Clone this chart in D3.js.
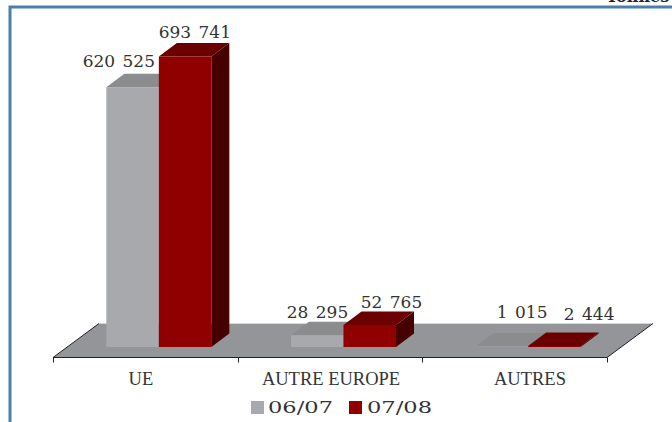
<!DOCTYPE html>
<html><head><meta charset="utf-8">
<script src="https://cdn.jsdelivr.net/npm/d3@7/dist/d3.min.js"></script>
<style>html,body{margin:0;padding:0;background:#fff;overflow:hidden}svg{display:block}</style>
</head><body><svg id="c" width="672" height="422"></svg>
<script>
const categories = ["UE","AUTRE EUROPE","AUTRES"];
const seriesNames = ["06/07","07/08"];
const values0607 = [620525,28295,1015];
const values0708 = [693741,52765,2444];
const labels0607 = ["620 525","28 295","1 015"];
const labels0708 = ["693 741","52 765","2 444"];
const unitText = "Tonnes";

const svg = d3.select("#c");
const F = "'DejaVu Serif', serif";
const ink = "#333";
const dx = 18, dy = -13.5;          // bar depth
const fdx = 46, fdy = -34;          // floor depth
const shiftX = 13.5, baseY = 347;   // bar row position on the floor
const floorY = 357.5;

const x = d3.scaleBand().domain(categories).range([53,607]);
const y = d3.scaleLinear().domain([0,693741]).range([baseY,56.5]);
const barW = 52.5;

// frame
svg.append("rect").attr("x",10).attr("y",7).attr("width",680).attr("height",440)
  .attr("fill","none").attr("stroke","#4a7fae").attr("stroke-width",3);
svg.append("text").attr("x",606).attr("y",2).attr("font-family",F).attr("font-size",16)
  .attr("font-weight","bold").attr("fill","#222").text(unitText);

// floor
svg.append("path").attr("fill","#939598")
  .attr("d",d3.line()([[53,floorY],[53+fdx,floorY+fdy],[607+fdx,floorY+fdy],[607,floorY]])+"Z");
svg.append("path").attr("fill","none").attr("stroke","#d8d8da").attr("d",`M${53+fdx},${floorY+fdy}H${607+fdx}`);
svg.append("path").attr("fill","none").attr("stroke","#222").attr("stroke-width",1)
  .attr("d",`M${53+fdx},${floorY+fdy}L53,${floorY}H607L${607+fdx},${floorY+fdy}`);

// axis
const tickXs = [...categories.map(c=>x(c)),607];
svg.selectAll(".tick").data(tickXs).join("line")
  .attr("x1",d=>Math.round(d)+.5).attr("x2",d=>Math.round(d)+.5)
  .attr("y1",floorY).attr("y2",floorY+5).attr("stroke","#222");
const catNudge=[-4.4,1,15.3];
svg.selectAll(".cat").data(categories).join("text")
  .attr("x",(d,i)=>x(d)+x.bandwidth()/2+catNudge[i]).attr("y",385).attr("text-anchor","middle")
  .attr("font-family","'Liberation Serif', serif").attr("font-size",18.5).attr("fill",ink).text(d=>d);

// bars
function bar(g,v,x0,cols){
  const t=y(v), x1=x0+barW;
  g.append("path").attr("fill",cols[1]).attr("d",`M${x0},${t}l${dx},${dy}H${x1+dx}L${x1},${t}Z`);
  g.append("path").attr("fill",cols[2]).attr("d",`M${x1},${t}l${dx},${dy}V${baseY+dy}L${x1},${baseY}Z`);
  g.append("rect").attr("x",x0).attr("y",t).attr("width",barW).attr("height",baseY-t).attr("fill",cols[0]);
}
const grayCols=["#a7a9ac","#8a8c8e","#8a8c8e"], redCols=["#900000","#6b0000","#470000"];
categories.forEach((c,i)=>{
  const cx=x(c)+x.bandwidth()/2+shiftX;
  const g=svg.append("g");
  bar(g,values0607[i],cx-barW,grayCols);
  bar(g,values0708[i],cx,redCols);
});

// value labels
const lab=(txt,px,py)=>svg.append("text").attr("x",px).attr("y",py).attr("text-anchor","middle")
  .attr("font-family",F).attr("font-size",17).attr("fill",ink).attr("word-spacing",2).text(txt);
const lx0=[-40,-26,-6], lx1=[36,48,61];
const ly0=[-20,-17,-28.5], ly1=[-18.5,-17,-26];
categories.forEach((c,i)=>{
  const cx=x(c)+x.bandwidth()/2+shiftX;
  lab(labels0607[i],cx+lx0[i],y(values0607[i])+ly0[i]);
  lab(labels0708[i],cx+lx1[i],y(values0708[i])+ly1[i]);
});

// legend
const lg=svg.append("g");
[[251,"#a7a9ac",268,0],[349,"#900000",367,1]].forEach(([lx,col,tx,i])=>{
  lg.append("rect").attr("x",lx).attr("y",401).attr("width",13).attr("height",13).attr("fill",col);
  lg.append("text").attr("x",tx).attr("y",413).attr("font-family",F).attr("font-size",17.5)
    .attr("textLength",65).attr("lengthAdjust","spacingAndGlyphs").attr("fill",ink).text(seriesNames[i]);
});
</script></body></html>
